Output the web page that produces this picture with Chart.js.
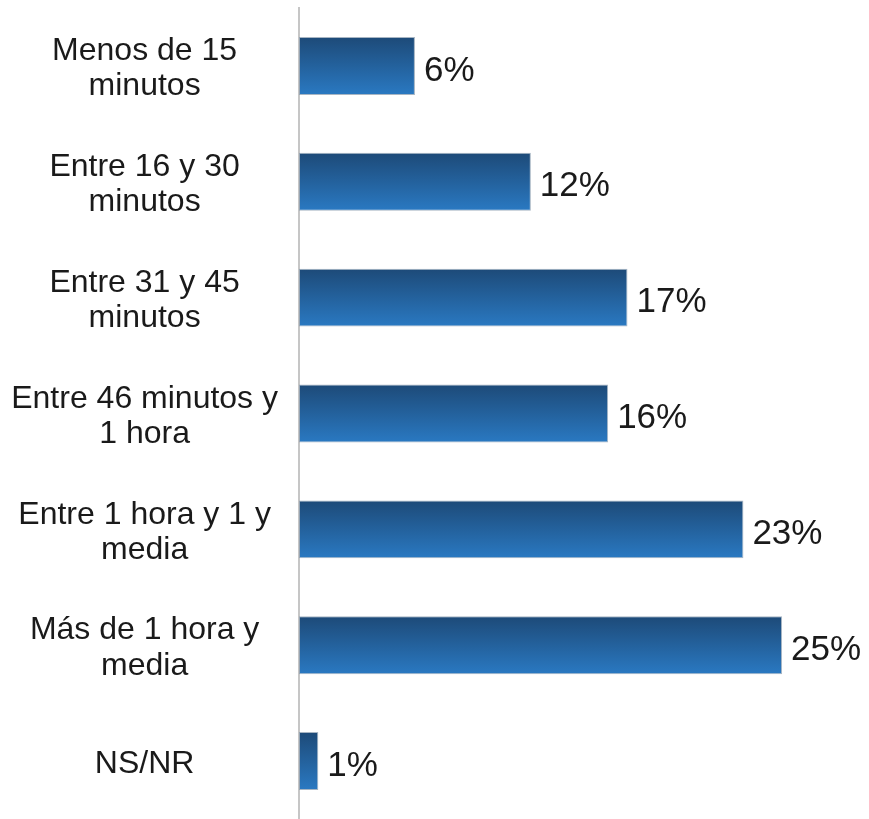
<!DOCTYPE html>
<html>
<head>
<meta charset="utf-8">
<script src="https://cdn.jsdelivr.net/npm/chart.js@4"></script>
<style>
  html, body { margin: 0; padding: 0; background: #fff; }
  #wrap { width: 869px; height: 819px; position: relative; }
</style>
</head>
<body>
<div id="wrap"><canvas id="chart"></canvas></div>
<script>
const categories = [
  ['Menos de 15', 'minutos'],
  ['Entre 16 y 30', 'minutos'],
  ['Entre 31 y 45', 'minutos'],
  ['Entre 46 minutos y', '1 hora'],
  ['Entre 1 hora y 1 y', 'media'],
  ['Más de 1 hora y', 'media'],
  'NS/NR'
];
const values = [6, 12, 17, 16, 23, 25, 1];

const barFill = (ctx) => {
  const chart = ctx.chart;
  const y = chart.scales.y;
  if (!chart.chartArea || !y || ctx.dataIndex === undefined) return '#25639f';
  const c = y.getPixelForValue(ctx.dataIndex);
  const half = y.height / categories.length / 4;
  const g = chart.ctx.createLinearGradient(0, c - half, 0, c + half);
  g.addColorStop(0, '#1d4a78');
  g.addColorStop(1, '#2a79c2');
  return g;
};

// etiquetas de porcentaje a la derecha de cada barra
const valueLabels = {
  id: 'valueLabels',
  afterDatasetsDraw(chart) {
    const { ctx } = chart;
    const meta = chart.getDatasetMeta(0);
    ctx.save();
    ctx.font = '35px "Liberation Sans", Arial, sans-serif';
    ctx.fillStyle = '#1a1a1a';
    ctx.textAlign = 'left';
    ctx.textBaseline = 'middle';
    meta.data.forEach((bar, i) => {
      ctx.fillText(values[i] + '%', bar.x + 9, bar.y + 5);
    });
    ctx.restore();
  }
};

new Chart(document.getElementById('chart'), {
  type: 'bar',
  data: {
    labels: categories,
    datasets: [{
      data: values,
      backgroundColor: barFill,
      borderColor: 'rgba(130,150,170,0.7)',
      borderWidth: 1,
      borderSkipped: false,
      barPercentage: 0.5,
      categoryPercentage: 1,
    }]
  },
  options: {
    indexAxis: 'y',
    responsive: true,
    maintainAspectRatio: false,
    animation: false,
    layout: { padding: { top: 8, right: 0, bottom: -2, left: 0 } },
    plugins: {
      legend: { display: false },
      tooltip: { enabled: false }
    },
    scales: {
      x: {
        display: false,
        min: 0,
        max: 29.5,
      },
      y: {
        grid: { display: false, drawTicks: false },
        border: { display: true, color: '#c6c6c6', width: 2 },
        ticks: {
          crossAlign: 'center',
          padding: 21,
          labelOffset: 3,
          color: '#1a1a1a',
          font: { family: '"Liberation Sans", Arial, sans-serif', size: 32, lineHeight: 1.1 },
        },
        afterFit: (s) => {
          s.width = 299;
          s.paddingTop = 0;
          s.paddingBottom = 0;
        }
      }
    }
  },
  plugins: [valueLabels]
});
</script>
</body>
</html>
